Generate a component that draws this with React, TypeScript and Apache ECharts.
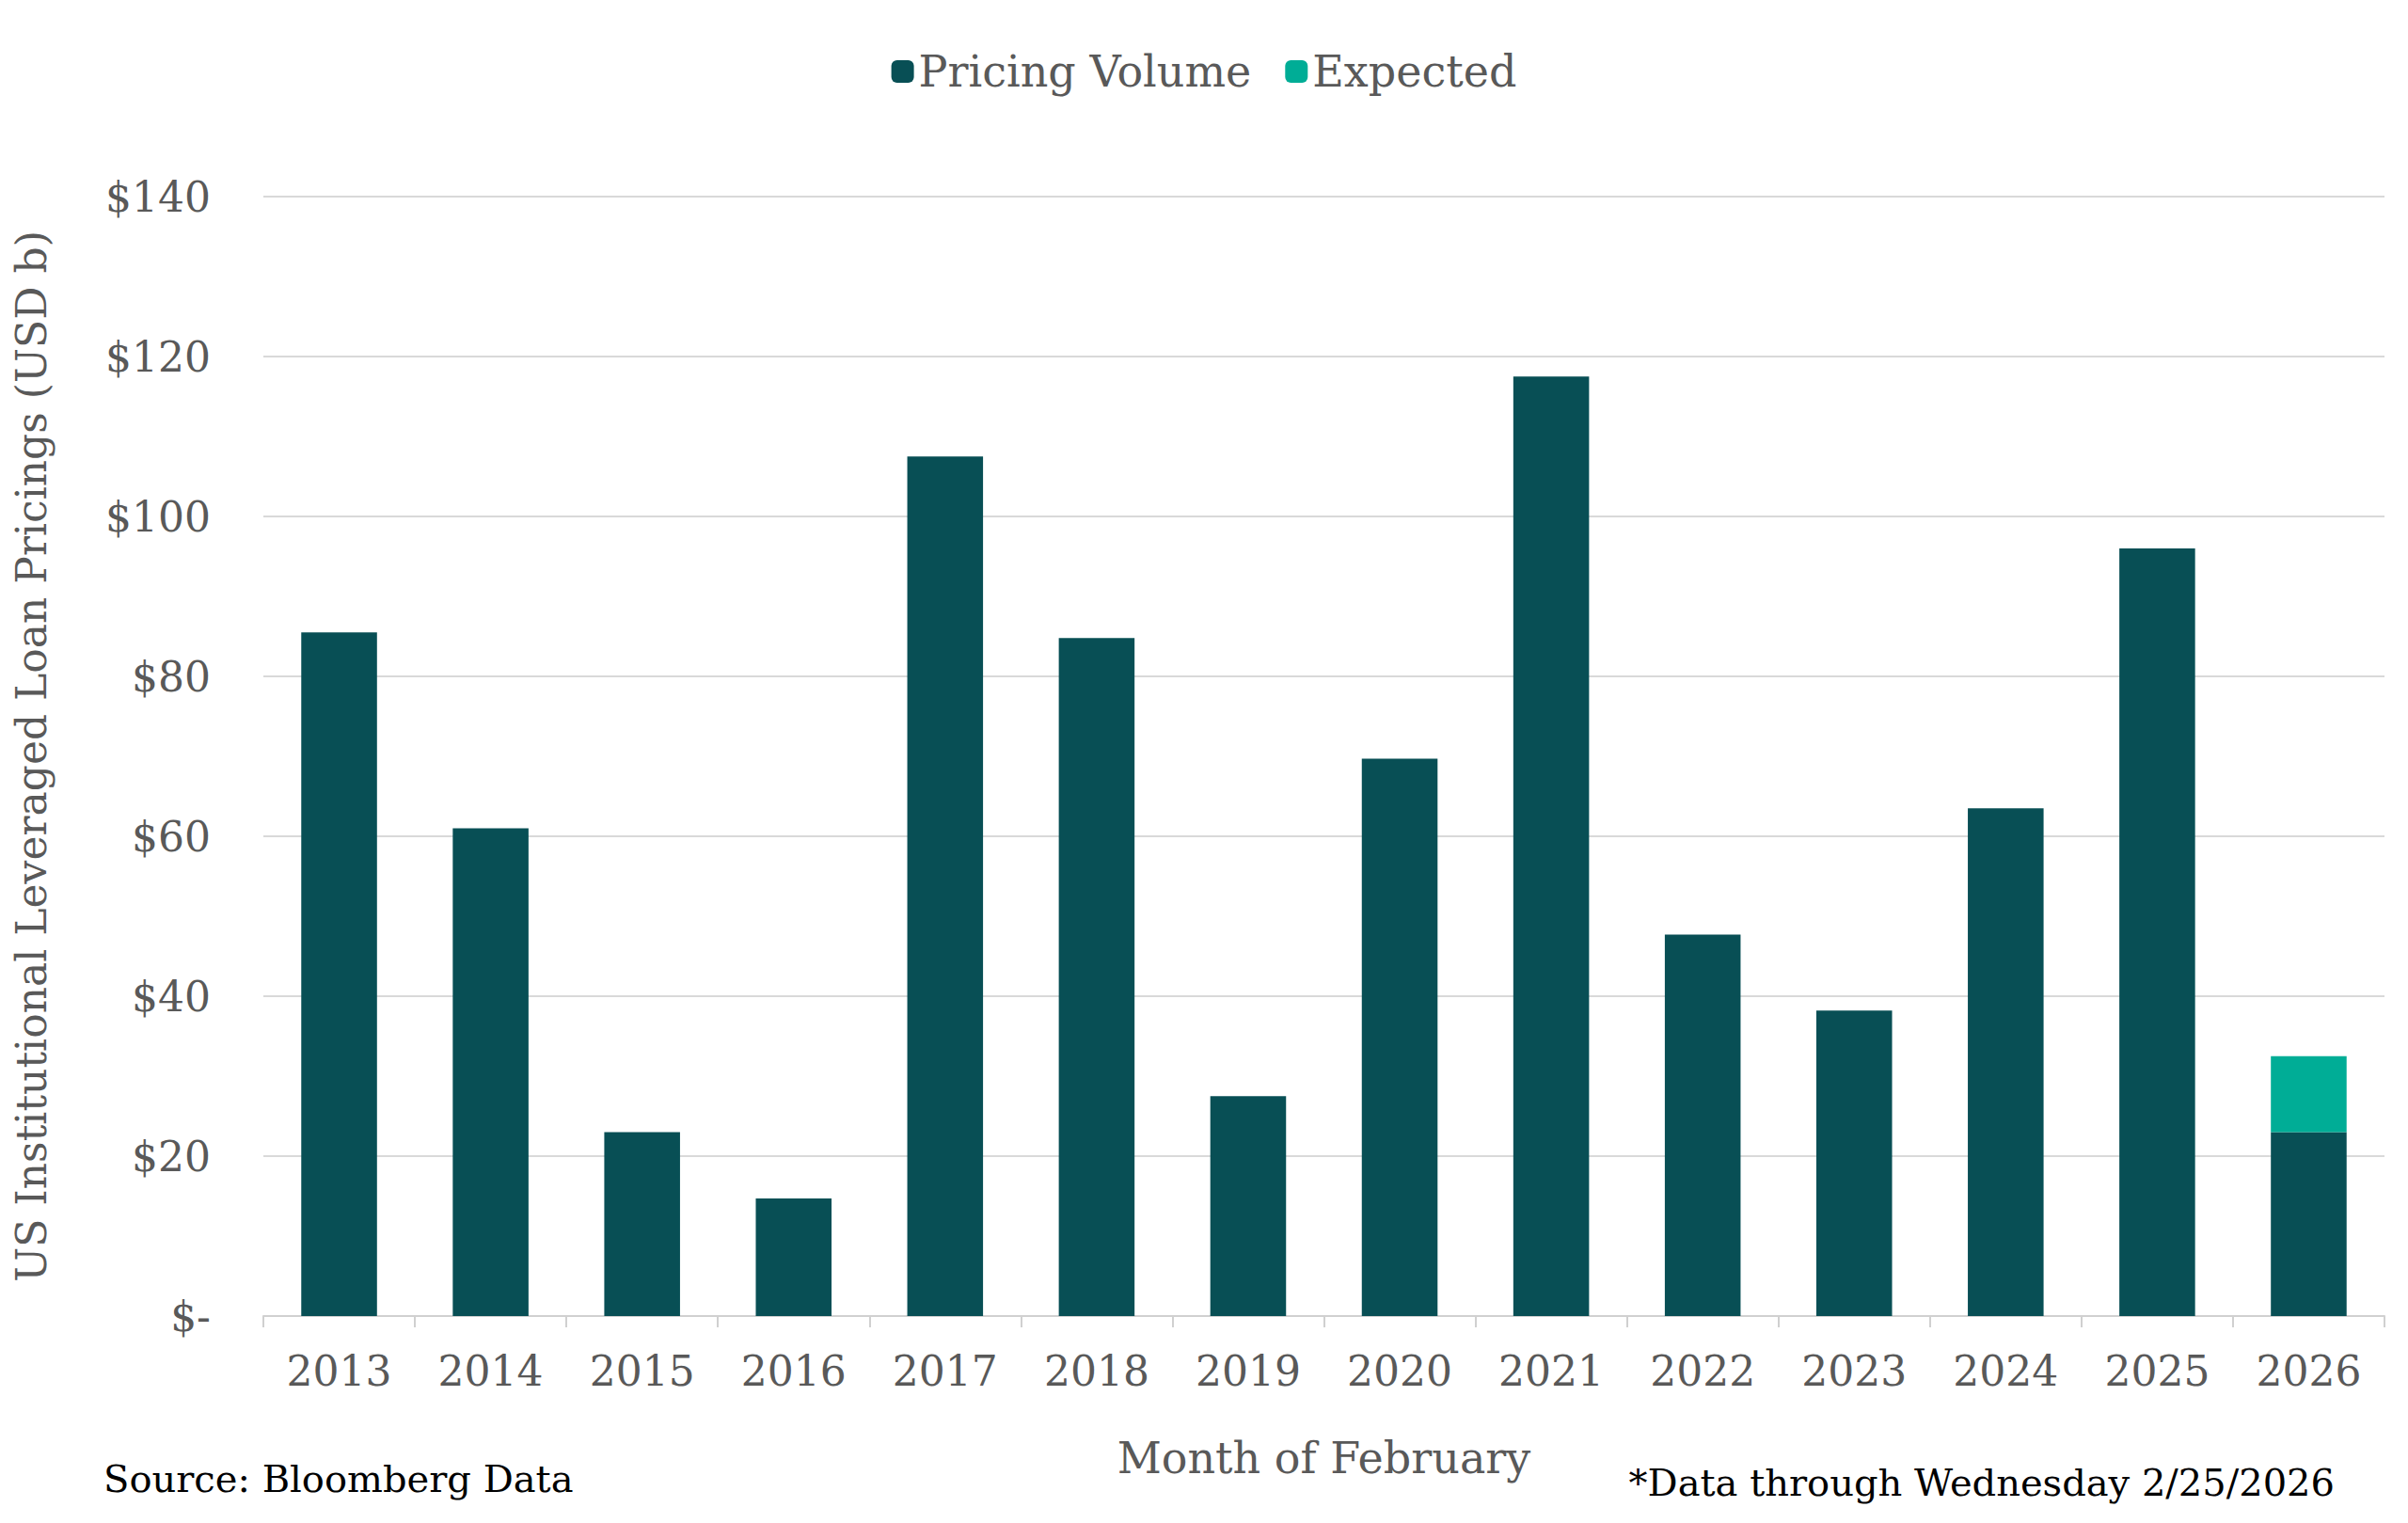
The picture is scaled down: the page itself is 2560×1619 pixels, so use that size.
import { useEffect, useRef } from "react";
import * as echarts from "echarts";

const years = ["2013", "2014", "2015", "2016", "2017", "2018", "2019", "2020", "2021", "2022", "2023", "2024", "2025", "2026"];
const pricingVolume = [85.5, 61, 23, 14.7, 107.5, 84.8, 27.5, 69.7, 117.5, 47.7, 38.2, 63.5, 96, 23];
const expected = [null, null, null, null, null, null, null, null, null, null, null, null, null, 9.5];

const FONT = "'DejaVu Serif', 'Liberation Serif', serif";

export default function App() {
  const chartRef = useRef<HTMLDivElement>(null);

  useEffect(() => {
    document.body.style.margin = "0";
    if (!chartRef.current) return;
    const chart = echarts.init(chartRef.current, undefined, { renderer: "svg" });

    const option: echarts.EChartsOption = {
      animation: false,
      backgroundColor: "#ffffff",
      textStyle: { fontFamily: FONT, color: "#595959" },
      legend: {
        top: 48,
        left: "center",
        itemWidth: 24,
        itemHeight: 24,
        itemGap: 36,
        textStyle: { fontSize: 46, color: "#595959", fontFamily: FONT },
        data: ["Pricing Volume", "Expected"],
      },
      grid: { left: 280, right: 25, top: 209, bottom: 220 },
      xAxis: {
        type: "category",
        data: years,
        name: "Month of February",
        nameLocation: "middle",
        nameGap: 128,
        nameTextStyle: { fontSize: 46, color: "#595959", fontFamily: FONT },
        axisLine: { lineStyle: { color: "#d0d0d0", width: 2 } },
        axisTick: { show: true, length: 12, lineStyle: { color: "#d0d0d0", width: 2 } },
        axisLabel: { fontSize: 44, color: "#595959", margin: 36, fontFamily: FONT },
      },
      yAxis: {
        type: "value",
        min: 0,
        max: 140,
        interval: 20,
        name: "US Institutional Leveraged Loan Pricings (USD b)",
        nameLocation: "middle",
        nameGap: 225,
        nameTextStyle: { fontSize: 44, color: "#595959", fontFamily: FONT },
        axisLine: { show: false },
        axisTick: { show: false },
        splitLine: { lineStyle: { color: "#d9d9d9", width: 2 } },
        axisLabel: {
          fontSize: 44,
          color: "#595959",
          margin: 56,
          fontFamily: FONT,
          formatter: (v: number) => (v === 0 ? "$-" : `$${v}`),
        },
      },
      series: [
        {
          name: "Pricing Volume",
          type: "bar",
          stack: "total",
          data: pricingVolume,
          barWidth: "50%",
          itemStyle: { color: "#084f55" },
        },
        {
          name: "Expected",
          type: "bar",
          stack: "total",
          data: expected,
          barWidth: "50%",
          itemStyle: { color: "#00ad96" },
        },
      ],
      graphic: [
        {
          type: "text",
          left: 110,
          top: 1552,
          style: { text: "Source: Bloomberg Data", fontSize: 40, fill: "#000000", fontFamily: FONT },
        },
        {
          type: "text",
          right: 78,
          top: 1556,
          style: { text: "*Data through Wednesday 2/25/2026", fontSize: 40, fill: "#000000", fontFamily: FONT },
        },
      ],
    };

    chart.setOption(option);
    return () => chart.dispose();
  }, []);

  return <div ref={chartRef} style={{ width: 2560, height: 1619 }} />;
}
